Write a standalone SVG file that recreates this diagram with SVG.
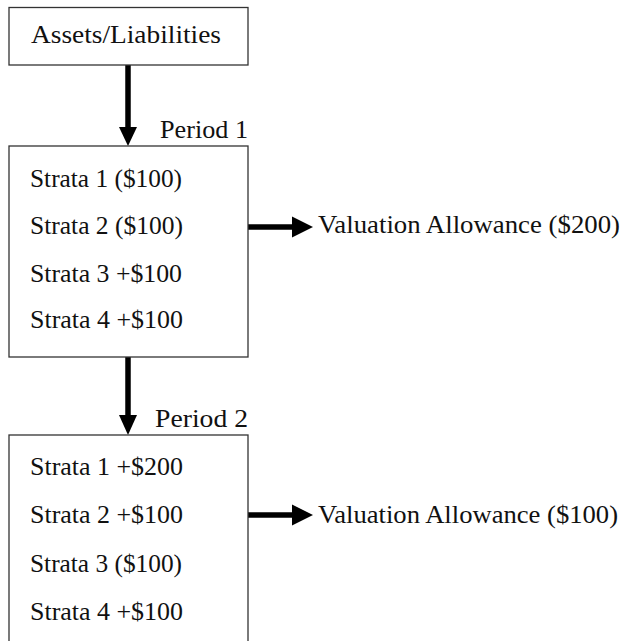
<svg xmlns="http://www.w3.org/2000/svg" width="639" height="641" viewBox="0 0 639 641">
<style>
.box{fill:#fff;stroke:#333;stroke-width:1.3}
.t{font-family:"Liberation Serif","Times New Roman",serif;font-size:25px;fill:#111}
.sh{stroke:#000;stroke-width:5.5;fill:none}
.hd{fill:#000}
</style>
<rect width="639" height="641" fill="#fff"/>
<g id="connectors">
<line class="sh" x1="128" y1="65" x2="128" y2="130"/>
<polygon class="hd" points="119,127 137,127 128,146"/>
<line class="sh" x1="128" y1="357" x2="128" y2="418"/>
<polygon class="hd" points="119,415 137,415 128,435"/>
<line class="sh" x1="248" y1="227" x2="294" y2="227"/>
<polygon class="hd" points="292,216.5 292,237.5 313,227"/>
<line class="sh" x1="248" y1="515" x2="294" y2="515"/>
<polygon class="hd" points="292,504.5 292,525.5 313,515"/>
</g>
<g id="assets">
<rect class="box" x="9" y="7.5" width="239" height="57.5"/>
<text class="t" x="31" y="43" textLength="190" lengthAdjust="spacingAndGlyphs">Assets/Liabilities</text>
</g>
<g id="period1">
<text class="t" x="160" y="138" textLength="88" lengthAdjust="spacingAndGlyphs">Period 1</text>
<rect class="box" x="9" y="146" width="239" height="211"/>
<text class="t" x="30" y="187" textLength="152" lengthAdjust="spacingAndGlyphs">Strata 1 ($100)</text>
<text class="t" x="30" y="234" textLength="153" lengthAdjust="spacingAndGlyphs">Strata 2 ($100)</text>
<text class="t" x="30" y="282" textLength="152" lengthAdjust="spacingAndGlyphs">Strata 3 +$100</text>
<text class="t" x="30" y="328" textLength="153" lengthAdjust="spacingAndGlyphs">Strata 4 +$100</text>
</g>
<g id="va1">
<text class="t" x="318" y="233" textLength="302" lengthAdjust="spacingAndGlyphs">Valuation Allowance ($200)</text>
</g>
<g id="period2">
<text class="t" x="155" y="427" textLength="93" lengthAdjust="spacingAndGlyphs">Period 2</text>
<rect class="box" x="9" y="435" width="239" height="215"/>
<text class="t" x="30" y="475" textLength="153" lengthAdjust="spacingAndGlyphs">Strata 1 +$200</text>
<text class="t" x="30" y="523" textLength="153" lengthAdjust="spacingAndGlyphs">Strata 2 +$100</text>
<text class="t" x="30" y="572" textLength="152" lengthAdjust="spacingAndGlyphs">Strata 3 ($100)</text>
<text class="t" x="30" y="620" textLength="153" lengthAdjust="spacingAndGlyphs">Strata 4 +$100</text>
</g>
<g id="va2">
<text class="t" x="318" y="523" textLength="300" lengthAdjust="spacingAndGlyphs">Valuation Allowance ($100)</text>
</g>
</svg>
